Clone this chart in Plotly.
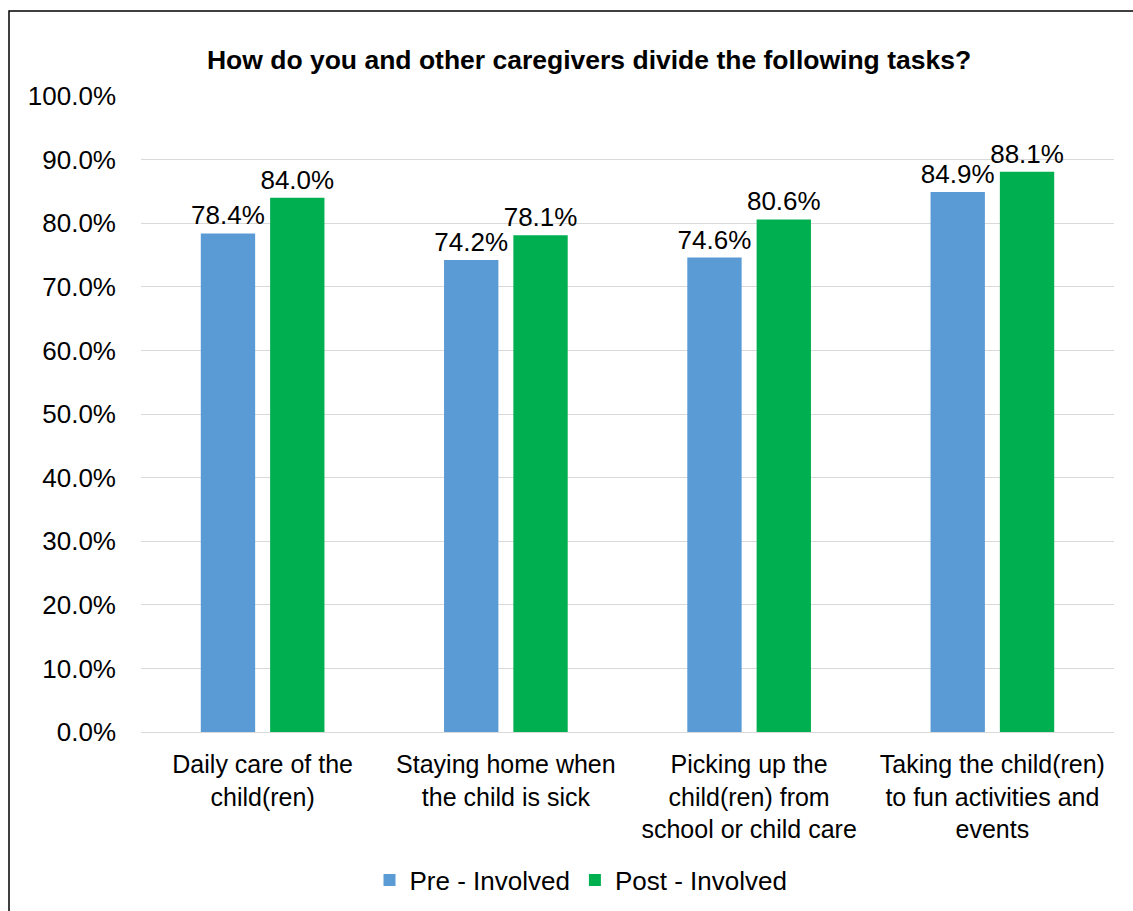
import plotly.graph_objects as go

categories = [
    "Daily care of the<br>child(ren)",
    "Staying home when<br>the child is sick",
    "Picking up the<br>child(ren) from<br>school or child care",
    "Taking the child(ren)<br>to fun activities and<br>events",
]
pre_involved = [78.4, 74.2, 74.6, 84.9]
post_involved = [84.0, 78.1, 80.6, 88.1]
y_ticks = [0, 10, 20, 30, 40, 50, 60, 70, 80, 90, 100]

FONT = "Liberation Sans, Arial, sans-serif"
W, H = 1133, 911
L, R, T, B = 141, 19, 96, 179
FS = 26

fig = go.Figure()
fig.add_trace(go.Bar(
    x=categories, y=pre_involved, name="Pre - Involved",
    marker=dict(color="#5B9BD5", line=dict(width=0)),
    text=[f"{v:.1f}%" for v in pre_involved], textposition="outside",
    constraintext="none",
    textfont=dict(family=FONT, size=FS, color="#000000"), cliponaxis=False,
))
fig.add_trace(go.Bar(
    x=categories, y=post_involved, name="Post - Involved",
    marker=dict(color="#00B050", line=dict(width=0)),
    text=[f"{v:.1f}%" for v in post_involved], textposition="outside",
    constraintext="none",
    textfont=dict(family=FONT, size=FS, color="#000000"), cliponaxis=False,
))

ph = H - T - B
pw = W - L - R
fig.add_shape(type="rect", xref="paper", yref="paper",
              x0=(9 - L) / pw, x1=1.2, y0=-0.6, y1=(H - B - 11) / ph,
              line=dict(color="#000000", width=1.5), fillcolor="rgba(0,0,0,0)", layer="below")

fig.update_layout(
    width=W, height=H,
    margin=dict(l=L, r=R, t=T, b=B, autoexpand=False),
    paper_bgcolor="white", plot_bgcolor="white",
    barmode="group", bargap=0.43, bargroupgap=0.216,
    uniformtext=dict(mode=False),
    title=dict(text="<b>How do you and other caregivers divide the following tasks?</b>",
               x=589 / W, xanchor="center", xref="container",
               y=1 - 60 / H, yanchor="middle", yref="container",
               font=dict(family=FONT, size=26.5, color="#000000")),
    font=dict(family=FONT, size=FS, color="#000000"),
    showlegend=True,
    legend=dict(orientation="h", x=(581 - L) / pw, xanchor="center",
                y=(H - B - 880) / ph, yanchor="middle",
                font=dict(family=FONT, size=FS, color="#000000"),
                itemclick=False, traceorder="normal"),
    hovermode=False,
)
fig.update_yaxes(range=[0, 100], tickvals=y_ticks,
                 ticktext=[f"{v:.1f}%" for v in y_ticks],
                 showgrid=True, gridcolor="#D9D9D9", gridwidth=1.3,
                 zeroline=True, zerolinecolor="#D9D9D9", zerolinewidth=1.3,
                 showline=False, ticks="", ticklabelstandoff=24,
                 tickfont=dict(family=FONT, size=FS, color="#000000"),
                 fixedrange=True)
fig.update_xaxes(showgrid=False, showline=False, ticks="",
                 tickangle=0, ticklabelstandoff=15,
                 tickfont=dict(family=FONT, size=25, color="#000000"),
                 fixedrange=True)

fig.write_html("out.html")
